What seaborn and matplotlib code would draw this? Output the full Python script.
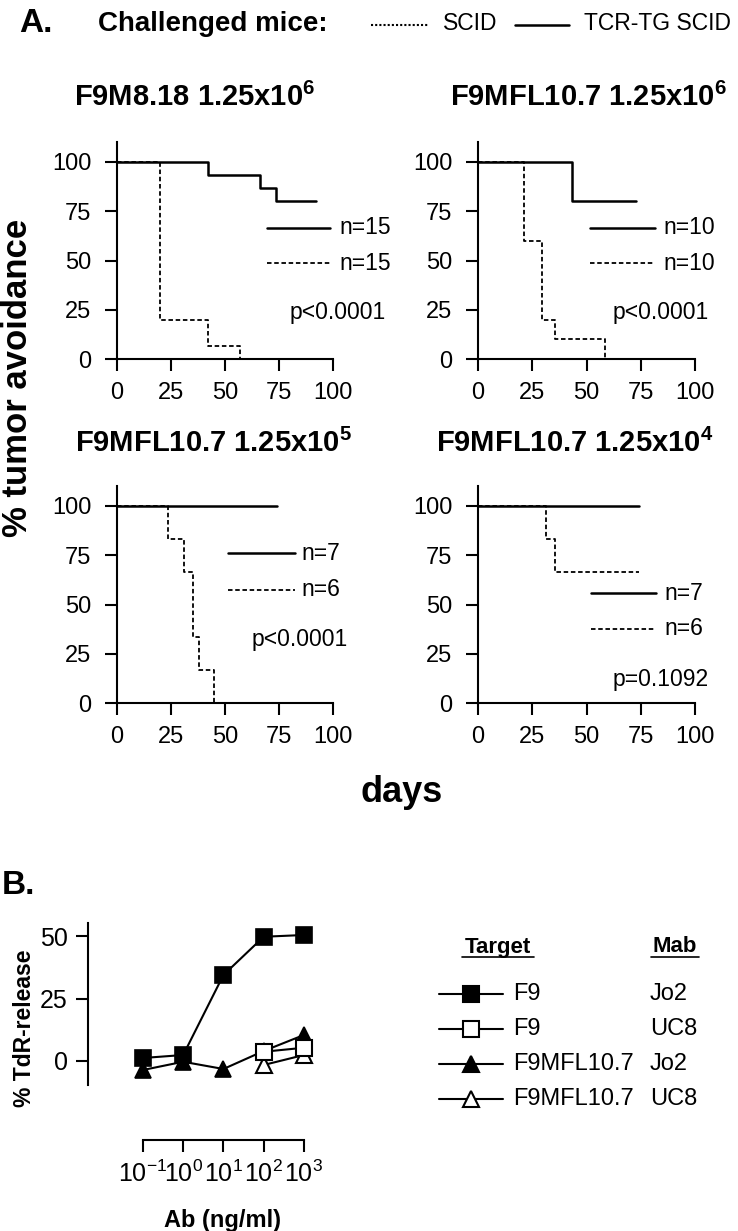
import numpy as np
import pandas as pd
import seaborn as sns
import matplotlib.pyplot as plt
from matplotlib.ticker import NullLocator

W, H = 738, 1231

# --- A. tumor challenge, % tumor avoidance over days ---
titles = [r"F9M8.18 1.25x10$^{\mathbf{6}}$", r"F9MFL10.7 1.25x10$^{\mathbf{6}}$",
          r"F9MFL10.7 1.25x10$^{\mathbf{5}}$", r"F9MFL10.7 1.25x10$^{\mathbf{4}}$"]

tg_days = [[0, 42, 66, 73.5, 92],
           [0, 43.3, 73],
           [0, 74],
           [0, 74]]
tg_pct = [[100, 93.3, 86.7, 80, 80],
          [100, 80, 80],
          [100, 100],
          [100, 100]]
scid_days = [[0, 20, 42, 57],
             [0, 21, 29.5, 35.5, 58.5],
             [0, 23.7, 31, 35.3, 38, 45],
             [0, 31.3, 35.5, 74]]
scid_pct = [[100, 20, 6.7, 0],
            [100, 60, 20, 10, 0],
            [100, 83.3, 66.7, 33.3, 16.7, 0],
            [100, 83.3, 66.7, 66.7]]

n_tg = ["n=15", "n=10", "n=7", "n=7"]
n_scid = ["n=15", "n=10", "n=6", "n=6"]
pvals = ["p<0.0001", "p<0.0001", "p<0.0001", "p=0.1092"]

# --- B. TdR release vs antibody concentration ---
conc = [0.1, 1, 10, 100, 1000]
f9_jo2 = [1.2, 2.4, 34.4, 49.7, 50.4]
mfl_jo2 = [-3.6, -0.3, -3.2, 4.0, 10.4]
uc8_conc = [100, 1000]
f9_uc8 = [3.7, 5.3]
mfl_uc8 = [-1.6, 2.4]

sns.set_style("ticks")
plt.rcParams['font.family'] = ['Liberation Sans', 'DejaVu Sans']
plt.rcParams['mathtext.fontset'] = 'custom'
plt.rcParams['mathtext.rm'] = 'Liberation Sans'
plt.rcParams['mathtext.bf'] = 'Liberation Sans:bold'
plt.rcParams['mathtext.it'] = 'Liberation Sans:italic'
for key in ['text.color', 'axes.labelcolor', 'xtick.color', 'ytick.color', 'axes.edgecolor']:
    plt.rcParams[key] = 'black'

fig = plt.figure(figsize=(W / 100, H / 100), dpi=100)


def px_axes(x0, y0, x1, y1):
    return fig.add_axes([x0 / W, 1 - y1 / H, (x1 - x0) / W, (y1 - y0) / H])


def style_ax(ax, size=17, xpad=8, ypad=10):
    sns.despine(ax=ax)
    for s in ["left", "bottom"]:
        ax.spines[s].set_linewidth(1.5)
        ax.spines[s].set_color("black")
    ax.tick_params(length=8.5, width=1.5, labelsize=size, colors="black")
    ax.tick_params(axis="x", pad=xpad)
    ax.tick_params(axis="y", pad=ypad)
    ax.set_xlabel("")
    ax.set_ylabel("")
    ax.set_facecolor("none")


dash = (0, (2.5, 1.5))
boxes = [(117, 142.3, 333, 359), (478, 142.3, 695, 359),
         (117, 486.3, 333, 703), (478, 486.3, 695, 703)]
title_pos = [(195, 97), (588, 97), (213, 443), (575, 443)]
leg_x = [(69.4, 98.6, 103), (51.6, 81.6, 85.3), (51.4, 82.4, 85.6), (52, 82, 86)]
leg_y = [(66.5, 48.7), (66.5, 48.7), (76, 57.4), (55.8, 37.6)]
p_pos = [(80, 23.4), (62.2, 23.4), (62.5, 32), (62.2, 11.7)]

for i in range(4):
    ax = px_axes(*boxes[i])
    sns.lineplot(x=scid_days[i], y=scid_pct[i], ax=ax, color="black", lw=1.3,
                 linestyle=dash, drawstyle="steps-post", errorbar=None, legend=False)
    sns.lineplot(x=tg_days[i], y=tg_pct[i], ax=ax, color="black", lw=1.8,
                 drawstyle="steps-post", errorbar=None, legend=False)
    ax.set_xlim(0, 100)
    ax.set_ylim(0, 110)
    ax.set_xticks([0, 25, 50, 75, 100])
    ax.set_yticks([0, 25, 50, 75, 100])
    style_ax(ax)
    x0, x1, xt = leg_x[i]
    ya, yb = leg_y[i]
    ax.plot([x0, x1], [ya, ya], color="black", lw=1.8, clip_on=False)
    ax.plot([x0, x1], [yb, yb], color="black", lw=1.3, linestyle=dash, clip_on=False)
    ax.text(xt, ya, n_tg[i], fontsize=16.5, va="center", ha="left")
    ax.text(xt, yb, n_scid[i], fontsize=16.5, va="center", ha="left")
    ax.text(p_pos[i][0], p_pos[i][1], pvals[i], fontsize=16.5, va="center", ha="left")

# panel B
axb = px_axes(88, 923, 320, 1140)
sns.lineplot(x=conc, y=mfl_jo2, ax=axb, color="black", lw=1.5, marker="^",
             markersize=12, markerfacecolor="black", markeredgecolor="black",
             markeredgewidth=1.2, errorbar=None, legend=False)
sns.lineplot(x=uc8_conc, y=mfl_uc8, ax=axb, color="black", lw=1.5, marker="^",
             markersize=12, markerfacecolor="white", markeredgecolor="black",
             markeredgewidth=1.5, errorbar=None, legend=False)
sns.lineplot(x=uc8_conc, y=f9_uc8, ax=axb, color="black", lw=1.5, marker="s",
             markersize=11, markerfacecolor="white", markeredgecolor="black",
             markeredgewidth=1.5, errorbar=None, legend=False)
sns.lineplot(x=conc, y=f9_jo2, ax=axb, color="black", lw=1.5, marker="s",
             markersize=11, markerfacecolor="black", markeredgecolor="black",
             markeredgewidth=1.2, errorbar=None, legend=False)
axb.set_xscale("log")
axb.set_xlim(10 ** -2.366, 10 ** 3.4)
axb.set_ylim(-31.6, 55.2)
axb.set_xticks(conc)
axb.set_xticklabels([r"$10^{-1}$", r"$10^{0}$", r"$10^{1}$", r"$10^{2}$", r"$10^{3}$"])
axb.xaxis.set_minor_locator(NullLocator())
axb.set_yticks([0, 25, 50])
style_ax(axb, size=18, xpad=6, ypad=6)
axb.spines["left"].set_bounds(-9.6, 55.2)
axb.spines["bottom"].set_bounds(0.1, 1000)

# free text, legends, labels in pixel coordinates
ann = fig.add_axes([0, 0, 1, 1])
ann.set_xlim(0, W)
ann.set_ylim(H, 0)
ann.axis("off")

ann.text(19, 24, "A.", fontsize=24, fontweight="bold", va="center", ha="left")
ann.text(98, 24, "Challenged mice:", fontsize=20, fontweight="bold", va="center", ha="left")
ann.plot([371, 429], [25, 25], color="black", lw=1.5, linestyle=(0, (1, 1)))
ann.text(443, 24, "SCID", fontsize=16.5, va="center", ha="left")
ann.plot([515, 569], [25, 25], color="black", lw=1.8)
ann.text(584, 24, "TCR-TG SCID", fontsize=16.5, va="center", ha="left")

for (tx, ty), t in zip(title_pos, titles):
    ann.text(tx, ty, t, fontsize=21, fontweight="bold", va="center", ha="center")

ann.text(18, 378, "% tumor avoidance", fontsize=25, fontweight="bold",
         rotation=90, va="center", ha="center")
ann.text(402, 793, "days", fontsize=26, fontweight="bold", va="center", ha="center")

ann.text(2, 885, "B.", fontsize=24, fontweight="bold", va="center", ha="left")
ann.text(25, 1028, "% TdR-release", fontsize=16.5, fontweight="bold",
         rotation=90, va="center", ha="center")
ann.text(223, 1220, "Ab (ng/ml)", fontsize=17, fontweight="bold", va="center", ha="center")

# legend of panel B
ann.text(498, 947, "Target", fontsize=16, fontweight="bold", va="center", ha="center")
ann.text(675, 947, "Mab", fontsize=16, fontweight="bold", va="center", ha="center")
ann.plot([462, 534], [957, 957], color="black", lw=1.2)
ann.plot([651, 699], [957, 957], color="black", lw=1.2)
leg_rows = [("s", "black", "F9", "Jo2"), ("s", "white", "F9", "UC8"),
            ("^", "black", "F9MFL10.7", "Jo2"), ("^", "white", "F9MFL10.7", "UC8")]
for k, (m, fc, tgt, mab) in enumerate(leg_rows):
    yy = 994 + 35 * k
    ann.plot([439, 503], [yy, yy], color="black", lw=1.5)
    ann.plot([471], [yy], marker=m, markersize=11 if m == "s" else 12,
             markerfacecolor=fc, markeredgecolor="black", markeredgewidth=1.5)
    ann.text(513, yy, tgt, fontsize=17, va="center", ha="left")
    ann.text(650, yy, mab, fontsize=17, va="center", ha="left")

plt.savefig("out.png", dpi=100)
